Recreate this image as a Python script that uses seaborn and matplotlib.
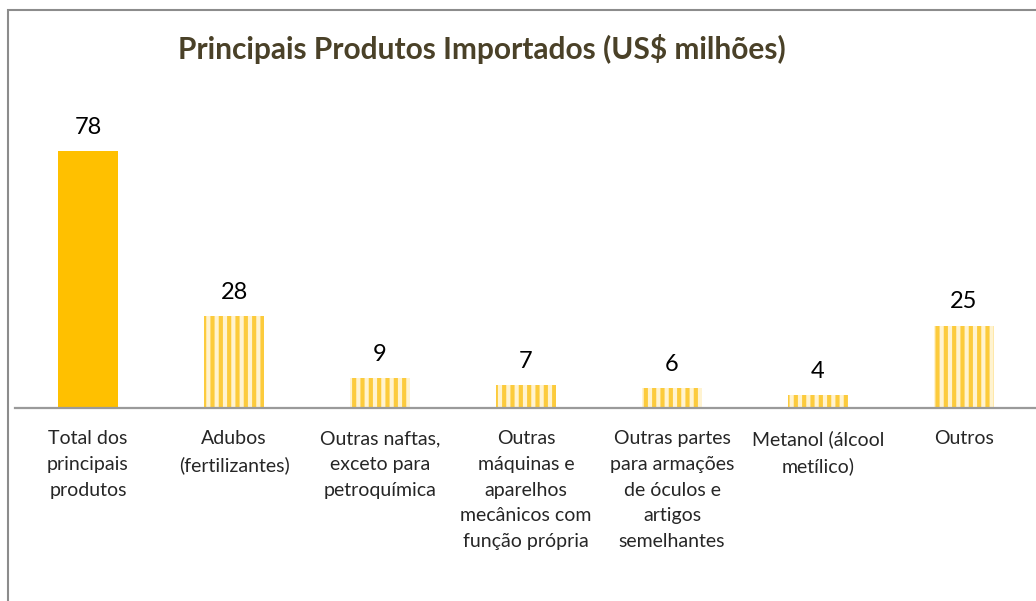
import numpy as np
import pandas as pd
import matplotlib
matplotlib.use("Agg")
import matplotlib.pyplot as plt
import seaborn as sns
from matplotlib.patches import Rectangle

# chart data
categories = [
    "Total dos\nprincipais\nprodutos",
    "Adubos\n(fertilizantes)",
    "Outras naftas,\nexceto para\npetroquímica",
    "Outras\nmáquinas e\naparelhos\nmecânicos com\nfunção própria",
    "Outras partes\npara armações\nde óculos e\nartigos\nsemelhantes",
    "Metanol (álcool\nmetílico)",
    "Outros",
]
values = [78, 28, 9, 7, 6, 4, 25]
title = "Principais Produtos Importados (US$ milhões)"

sns.set_style("white")
plt.rcParams["font.family"] = ["Lato", "DejaVu Sans"]
plt.rcParams["hatch.linewidth"] = 3.0

df = pd.DataFrame({"categoria": categories, "valor": values})

fig = plt.figure(figsize=(10.36, 6.01), dpi=100)
ax = fig.add_axes([15 / 1036, 1 - 408 / 601, 1022 / 1036, 308 / 601])

sns.barplot(data=df, x="categoria", y="valor", ax=ax, width=0.41,
            color="#FFC000", linewidth=0, saturation=1)

# all bars except the first are striped
for i, bar in enumerate(ax.patches):
    if i == 0:
        continue
    bar.set_facecolor("#FFF3D0")
    bar.set_edgecolor("#FCCB3C")
    bar.set_hatch("||")
    bar.set_linewidth(0)

for bar, v in zip(ax.patches, values):
    ax.text(bar.get_x() + bar.get_width() / 2, v + 4, str(v),
            ha="center", va="bottom", fontsize=17, color="black")

ax.set_xlim(-0.5, 6.5)
ax.set_ylim(0, 93.5)
ax.set_xlabel("")
ax.set_ylabel("")
ax.set_yticks([])
ax.tick_params(axis="x", length=0, pad=16, labelsize=14)
for lbl in ax.get_xticklabels():
    lbl.set_linespacing(1.62)
for side in ["top", "right", "left"]:
    ax.spines[side].set_visible(False)
ax.spines["bottom"].set_color("#9A9A9A")
ax.spines["bottom"].set_linewidth(1.6)

fig.text(482 / 1036, 1 - 49 / 601, title, ha="center", va="center",
         fontsize=21.5, fontweight="bold", color="#4A4128")

# chart frame (left and top edges visible)
fig.patches.append(Rectangle((8 / 1036, -0.1), 1.2, 1 - 10 / 601 + 0.1,
                             transform=fig.transFigure, fill=False,
                             edgecolor="#8C8C8C", linewidth=1.5))

fig.savefig("out.png", dpi=100)
